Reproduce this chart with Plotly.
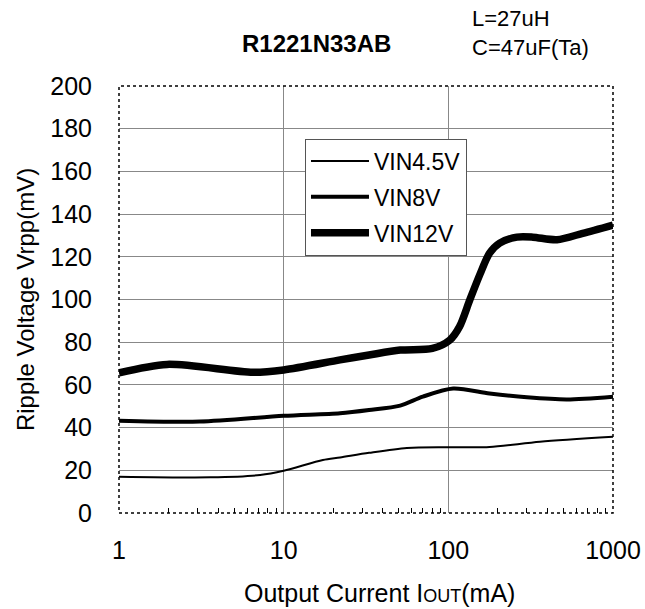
import plotly.graph_objects as go

# Data
x_45 = [1, 3.6, 7.2, 10, 17.3, 22, 33, 56, 100, 178, 360, 1000]
y_45 = [17, 16.7, 17.8, 19.8, 24.8, 26, 28.2, 30.5, 30.8, 30.9, 33.4, 35.7]

x_8 = [1, 3.1, 10, 22, 33, 51, 70, 107, 178, 300, 525, 1000]
y_8 = [43.2, 42.8, 45.5, 46.7, 48.2, 50.3, 54.5, 58.3, 56, 54.2, 53.2, 54.5]

x_12 = [1, 1.96, 6.5, 10, 22, 33, 51, 80, 102, 117, 135, 156, 178, 205, 261, 326, 457, 655, 1000]
y_12 = [65.6, 69.6, 65.9, 67, 71.7, 74, 76.3, 77.1, 81, 87.3, 99.8, 112, 121.7, 126.4, 129.2, 129.2, 128, 131, 134.9]

x_ticks = [1, 10, 100, 1000]
x_minor = [2, 3, 4, 5, 6, 7, 8, 9, 20, 30, 40, 50, 60, 70, 80, 90, 200, 300, 400, 500, 600, 700, 800, 900]
y_ticks = list(range(0, 201, 20))

FONT = "Liberation Sans, Arial, sans-serif"

fig = go.Figure()
fig.add_trace(go.Scatter(x=x_45, y=y_45, mode="lines", name="VIN4.5V",
                         line=dict(color="black", width=2, shape="spline", smoothing=0.8),
                         legendgroup="a"))
fig.add_trace(go.Scatter(x=x_8, y=y_8, mode="lines", name="VIN8V",
                         line=dict(color="black", width=4, shape="spline", smoothing=0.8),
                         legendgroup="b"))
fig.add_trace(go.Scatter(x=x_12, y=y_12, mode="lines", name="VIN12V",
                         line=dict(color="black", width=7.5, shape="spline", smoothing=0.8),
                         legendgroup="c"))

fig.update_layout(
    width=645, height=609,
    margin=dict(l=119, r=32, t=86, b=96),
    paper_bgcolor="white", plot_bgcolor="white",
    font=dict(family=FONT, color="black", size=24),
    showlegend=True,
    legend=dict(x=0.3765, y=0.877, xanchor="left", yanchor="top",
                bgcolor="white", bordercolor="#555", borderwidth=1,
                font=dict(size=23, family=FONT), tracegroupgap=3, itemwidth=58),
    title=dict(text="<b>R1221N33AB</b>", x=0.491, xanchor="center", y=0.929, yanchor="middle",
               font=dict(size=24, family=FONT)),
)

fig.update_xaxes(type="log", range=[0, 3], tickvals=x_ticks, ticktext=[str(v) for v in x_ticks],
                 showgrid=True, gridcolor="#888", gridwidth=1, ticks="", zeroline=False,
                 tickfont=dict(size=25), ticklabelstandoff=20, automargin=False,
                 minor=dict(tickmode="array", tickvals=x_minor, ticks="inside", ticklen=5,
                            tickcolor="black", showgrid=False))
fig.update_yaxes(range=[0, 200], tickvals=y_ticks, showgrid=True, gridcolor="#888", gridwidth=1,
                 ticks="", zeroline=False, tickfont=dict(size=25), ticklabelstandoff=26,
                 automargin=False,
                 title=dict(text="Ripple Voltage Vrpp(mV)", font=dict(size=24), standoff=8))

# x-axis title (offset to the right as in the reference)
fig.add_annotation(text="Output Current I<span style='font-size:18px'>OUT</span>(mA)",
                   xref="paper", yref="paper", x=0.528, y=-0.187,
                   xanchor="center", yanchor="middle", showarrow=False,
                   font=dict(size=25, family=FONT))

# dotted plot border
fig.add_shape(type="rect", xref="paper", yref="paper", x0=0, y0=0, x1=1, y1=1,
              line=dict(color="black", width=1.5, dash="dot"), layer="above")

fig.add_annotation(text="L=27uH<br>C=47uF(Ta)", xref="paper", yref="paper",
                   x=0.7105, y=1.125, xanchor="left", yanchor="middle", align="left",
                   showarrow=False, font=dict(size=22, family=FONT))

fig.write_html("out.html", post_script="document.body.style.margin='0';",
               config={"displayModeBar": False})
